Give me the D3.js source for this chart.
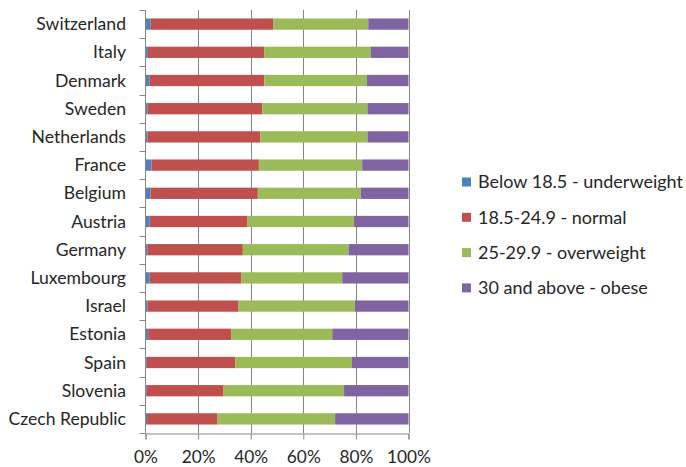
<!DOCTYPE html>
<html><head><meta charset="utf-8">
<script src="https://cdn.jsdelivr.net/npm/d3@7"></script>
<style>body{margin:0;background:#fff}svg{display:block}text{font-family:Lato,sans-serif;fill:#262626}</style>
</head><body><svg id="c" width="686" height="467"></svg>
<script>
const countries = ["Switzerland","Italy","Denmark","Sweden","Netherlands","France","Belgium","Austria","Germany","Luxembourg","Israel","Estonia","Spain","Slovenia","Czech Republic"];
const seriesNames = ["Below 18.5 - underweight","18.5-24.9 - normal","25-29.9 - overweight","30 and above - obese"];
const underweight = [2.0,0.9,1.6,0.8,0.8,2.3,1.9,1.6,0.8,1.6,0.8,1.0,0.5,0.5,0.6];
const normal      = [46.7,44.2,43.6,43.6,42.8,40.8,40.8,37.2,36.2,34.9,34.6,31.7,33.6,29.2,26.8];
const overweight  = [36.0,40.6,39.0,40.0,40.8,39.3,39.2,40.5,40.2,38.3,44.2,38.3,44.4,45.8,44.7];
const obese       = [15.3,14.3,15.8,15.6,15.6,17.6,18.1,20.7,22.8,25.2,20.4,29.0,21.5,24.5,27.9];
const tickValues = [0,0.2,0.4,0.6,0.8,1.0];
const colors = ["#4F81BD","#C0504D","#9BBB59","#8064A2"];

const svg = d3.select("#c");
const m = {left:145.5, right:408.5, top:10, bottom:433};
const rows = countries.map((c,i)=>{
  const vals=[underweight[i],normal[i],overweight[i],obese[i]];
  const t=d3.sum(vals);
  const o={country:c};
  seriesNames.forEach((s,j)=>o[s]=vals[j]/t);
  return o;
});
const stack = d3.stack().keys(seriesNames)(rows);
const x = d3.scaleLinear().domain([0,1]).range([m.left,m.right]);
const y = d3.scaleBand().domain(countries).range([m.top,m.bottom]).paddingInner(0.6).paddingOuter(0.3);
const yb = d3.scaleBand().domain(countries).range([m.top,m.bottom]);

svg.append("g").selectAll("line").data(tickValues.slice(1)).join("line")
  .attr("x1",d=>Math.round(x(d))+0.5).attr("x2",d=>Math.round(x(d))+0.5)
  .attr("y1",m.top).attr("y2",m.bottom).attr("stroke","#868686").attr("stroke-width",1);

svg.append("g").selectAll("g").data(stack).join("g").attr("fill",(d,i)=>colors[i])
  .selectAll("rect").data(d=>d).join("rect")
  .attr("x",d=>x(d[0])).attr("width",d=>Math.max(0,x(d[1])-x(d[0])))
  .attr("y",d=>y(d.data.country)).attr("height",y.bandwidth());

const ly = svg.append("g");
ly.append("line").attr("x1",m.left).attr("x2",m.left).attr("y1",m.top).attr("y2",m.bottom).attr("stroke","#868686");
const bounds = countries.map(c=>yb(c)).concat([m.bottom]);
ly.selectAll("line.t").data(bounds).join("line").attr("class","t")
  .attr("x1",m.left-6).attr("x2",m.left).attr("y1",d=>Math.round(d)+0.5).attr("y2",d=>Math.round(d)+0.5).attr("stroke","#868686");
ly.selectAll("text").data(countries).join("text")
  .attr("x",126).attr("y",d=>yb(d)+yb.bandwidth()/2).attr("dy","0.35em")
  .attr("text-anchor","end").attr("font-size",17.6).text(d=>d);

const xa = d3.axisBottom(x).tickValues(tickValues).tickFormat(d3.format(".0%")).tickSize(6).tickPadding(11);
const gx = svg.append("g").attr("transform",`translate(0,${m.bottom+0.5})`).call(xa);
gx.selectAll("line,path").attr("stroke","#868686");
gx.selectAll("text").attr("font-size",17.3).attr("font-family","Lato").attr("fill","#262626");

const lg = svg.append("g").selectAll("g").data(seriesNames).join("g")
  .attr("transform",(d,i)=>`translate(462,${182+i*35.3})`);
lg.append("rect").attr("x",0).attr("y",-4.5).attr("width",9).attr("height",9).attr("fill",(d,i)=>colors[i]);
lg.append("text").attr("x",16).attr("dy","0.35em").attr("font-size",18).text(d=>d);
</script></body></html>
